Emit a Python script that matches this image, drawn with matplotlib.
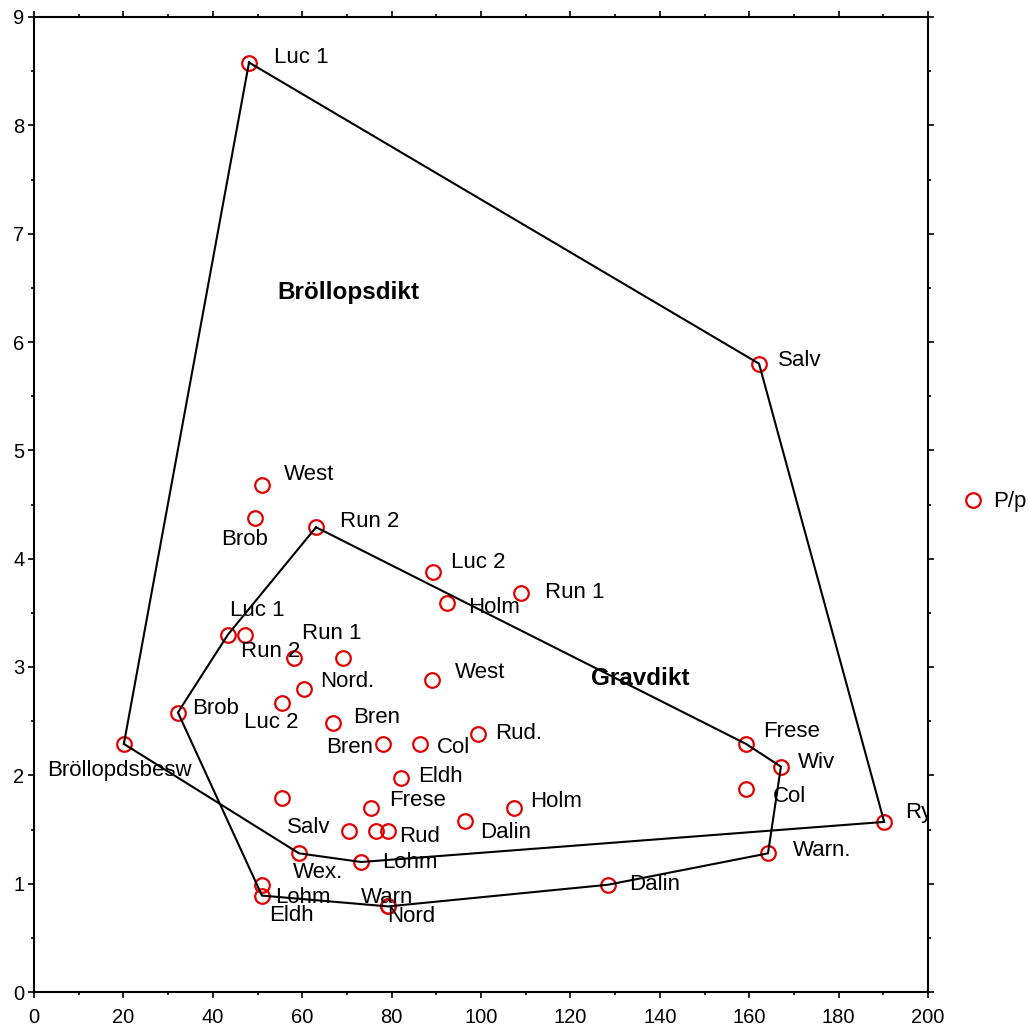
import matplotlib
matplotlib.use("Agg")
import matplotlib.pyplot as plt
from matplotlib.ticker import MultipleLocator

plt.rcParams['font.family'] = ['Liberation Sans', 'DejaVu Sans']

# ---- data ----
labels = ["Luc 1", "Salv", "West", "Brob", "Run 2", "Luc 2", "Run 1", "Holm",
          "Luc 1", "", "Run 2", "Run 1", "Nord.", "Luc 2", "Brob", "West",
          "Bren", "Bren", "Col", "Rud.", "Eldh", "", "Frese", "Salv", "",
          "Rud", "Dalin", "Holm", "Wex.", "Lohm", "Lohm", "Eldh", "Warn",
          "Nord", "Dalin", "Warn.", "Ry", "Col", "Frese", "Wiv", "Bröllopdsbesw"]
x_vals = [48.1, 162.2, 51.0, 49.4, 63.1, 89.3, 109.0, 92.4,
          43.4, 47.2, 58.2, 69.1, 60.4, 55.5, 32.2, 89.0,
          66.9, 78.1, 86.4, 99.3, 82.1, 55.5, 75.4, 70.5, 76.5,
          79.2, 96.4, 107.4, 59.3, 73.2, 51.0, 51.0, 79.2,
          79.2, 128.4, 164.2, 190.2, 159.3, 159.3, 167.1, 20.1]
y_vals = [8.58, 5.80, 4.68, 4.38, 4.29, 3.88, 3.68, 3.59,
          3.30, 3.30, 3.08, 3.08, 2.80, 2.67, 2.58, 2.88,
          2.48, 2.29, 2.29, 2.38, 1.98, 1.79, 1.70, 1.49, 1.49,
          1.49, 1.58, 1.70, 1.28, 1.20, 0.99, 0.89, 0.79,
          0.79, 0.99, 1.28, 1.57, 1.87, 2.29, 2.08, 2.29]

# hull polygons (indices into the point list above)
hull_brollop = [0, 1, 36, 29, 28, 40, 0]
hull_grav = [4, 38, 39, 35, 34, 33, 31, 14, 8, 4]

group_names = ["Bröllopsdikt", "Gravdikt"]
group_pos_x = [70.3, 135.6]
group_pos_y = [6.46, 2.89]

legend_label = "P/p"

# label offsets in pixels (text centre relative to marker), style only
label_offsets = [(52, 5), (41, 3), (47, 11), (-10, -22), (54, 6), (45, 9), (54, 1), (47, -4),
                 (29, 24), (0, 0), (-23, 7), (-11, 25), (43, 7), (-11, -20), (38, 4), (48, 8),
                 (44, 6), (-33, -4), (33, -4), (41, 1), (39, 1), (0, 0), (47, 7), (-40, 3), (0, 0),
                 (32, -6), (41, -12), (42, 6), (19, -19), (49, 0), (41, -13), (29, -20), (-1, 9),
                 (23, -10), (47, 0), (54, 3), (35, 9), (43, -7), (45, 12), (36, 4), (-4, -27)]

fig = plt.figure(figsize=(10.29, 10.30), dpi=100)
ax = fig.add_axes([34 / 1029, 38 / 1030, 894 / 1029, 975 / 1030])

red = '#e00000'
for hull in (hull_brollop, hull_grav):
    ax.plot([x_vals[i] for i in hull], [y_vals[i] for i in hull],
            color='black', lw=1.5, zorder=3, solid_joinstyle='miter')

ax.plot(x_vals, y_vals, linestyle='none', marker='o', markersize=10.5,
        markerfacecolor='none', markeredgecolor=red, markeredgewidth=1.6,
        zorder=2, label=legend_label, clip_on=False)

for lab, xv, yv, off in zip(labels, x_vals, y_vals, label_offsets):
    if lab:
        ax.annotate(lab, (xv, yv), xytext=off, textcoords='offset pixels',
                    ha='center', va='center', fontsize=16, color='black',
                    zorder=4, annotation_clip=False, clip_on=True)

for name, gx, gy in zip(group_names, group_pos_x, group_pos_y):
    ax.text(gx, gy, name, ha='center', va='center', fontsize=17.5,
            fontweight='bold', zorder=4)

ax.set_xlim(0, 200)
ax.set_ylim(0, 9)
ax.xaxis.set_major_locator(MultipleLocator(20))
ax.xaxis.set_minor_locator(MultipleLocator(10))
ax.yaxis.set_major_locator(MultipleLocator(1))
ax.yaxis.set_minor_locator(MultipleLocator(0.5))

for sp in ax.spines.values():
    sp.set_linewidth(1.5)
ax.tick_params(which='both', direction='out', top=True, right=True,
               labeltop=False, labelright=False, width=1.2)
ax.tick_params(which='major', length=4.5, labelsize=14.5)
ax.tick_params(which='minor', length=2.5)
ax.tick_params(axis='x', which='major', pad=7)
ax.tick_params(axis='y', which='major', pad=2.5)

fig.legend(loc='center left', bbox_to_anchor=(962 / 1029, (1030 - 502) / 1030),
           frameon=False, borderpad=0, borderaxespad=0, handlelength=1.0,
           handletextpad=0.4, fontsize=16)

fig.savefig('out.png', dpi=100)
